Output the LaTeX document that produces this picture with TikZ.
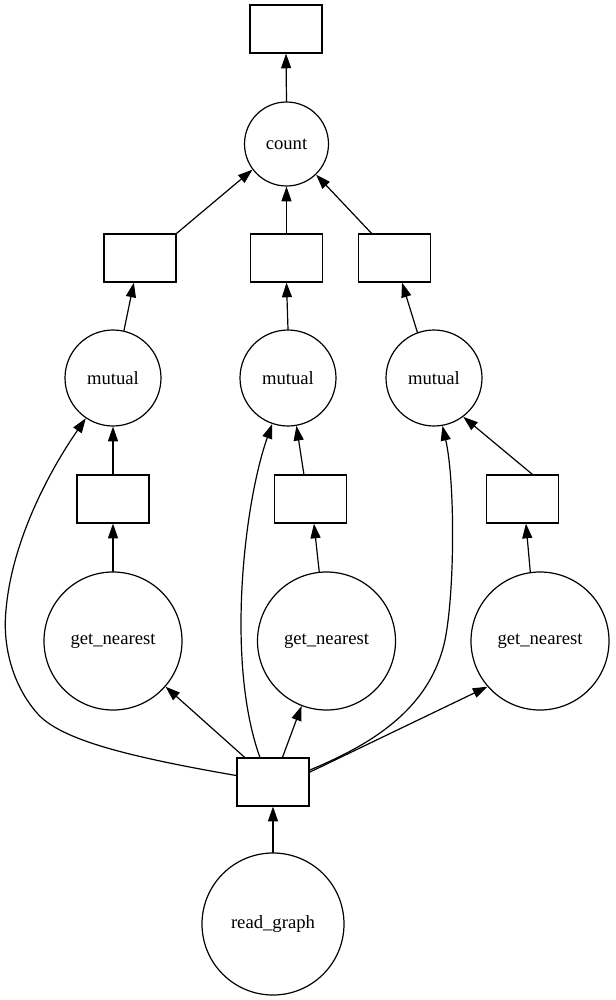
\documentclass[tikz,border=0pt]{standalone}
\usepackage{fontspec}
\setmainfont{Liberation Serif}
\usetikzlibrary{arrows.meta}
\tikzset{
  task/.style={circle, draw=black, line width=0.9pt, inner sep=0pt,
               font=\fontsize{14}{16}\selectfont},
  data/.style={rectangle, draw=black, line width=0.9pt, inner sep=0pt,
               minimum width=54pt, minimum height=36pt},
  dep/.style={line width=0.9pt, -{Triangle[length=11pt,width=7.5pt]}},
}

\begin{document}
\begin{tikzpicture}[x=0.75pt,y=-0.75pt,line cap=round]
  \useasboundingbox (0,0) rectangle (615,1000);
  % ====== nodes ======
  \node[data] (top) at (286,29) {};
  \node[task, minimum size=63pt] (cnt) at (286.5,144) {count};
  \node[data] (b1L) at (140,258) {};
  \node[data] (b1M) at (286.5,258) {};
  \node[data] (b1R) at (394.5,258) {};
  \node[task, minimum size=72pt] (mutL) at (113,378) {mutual};
  \node[task, minimum size=72pt] (mutM) at (288,378) {mutual};
  \node[task, minimum size=72pt] (mutR) at (434,378) {mutual};
  \node[data] (b2L) at (113,499) {};
  \node[data] (b2M) at (310.5,499) {};
  \node[data] (b2R) at (522.5,499) {};
  \node[task, minimum size=103.5pt] (gnL) at (113,641) {get\_nearest};
  \node[task, minimum size=103.5pt] (gnM) at (326.5,641) {get\_nearest};
  \node[task, minimum size=103.5pt] (gnR) at (540,641) {get\_nearest};
  \node[data] (bot) at (273,782) {};
  \node[task, minimum size=106.5pt] (rg) at (273,924) {read\_graph};
  % ====== edges ======
  \draw[dep] (cnt.north) -- (top.south);
  \draw[dep] (b1L.north east) -- (cnt.217);
  \draw[dep] (b1M.north) -- (cnt.south);
  \draw[dep] (b1R.133) -- (cnt.314);
  \draw[dep] (mutL.77) -- (b1L.256);
  \draw[dep] (mutM.north) -- (b1M.south);
  \draw[dep] (mutR.110) -- (b1R.287);
  \draw[dep] (b2L.north) -- (mutL.south);
  \draw[dep] (b2M.105) -- (mutM.280);
  \draw[dep] (b2R.68) -- (mutR.307);
  \draw[dep] (gnL.north) -- (b2L.south);
  \draw[dep] (gnM.96) -- (b2M.278);
  \draw[dep] (gnR.98) -- (b2R.278);
  \draw[dep] (bot.139) -- (gnL.319);
  \draw[dep] (bot.69) -- (gnM.249);
  \draw[dep] (bot.15) -- (gnR.221);
  \draw[dep] (rg.north) -- (bot.south);
  % ====== long edges to mutual ======
  \draw[dep] (bot.170) .. controls (130,757) and (60,740) .. (37,713)
    .. controls (15,688) and (2,650) .. (6,610)
    .. controls (12,540) and (50,470) .. (mutL.236);
  \draw[dep] (bot.118) .. controls (225,660) and (245,500) .. (mutM.251);
  \draw[dep] (bot.18) .. controls (370,745) and (430,710) .. (445,640)
    .. controls (455,590) and (455,480) .. (mutR.280);
\end{tikzpicture}
\end{document}
